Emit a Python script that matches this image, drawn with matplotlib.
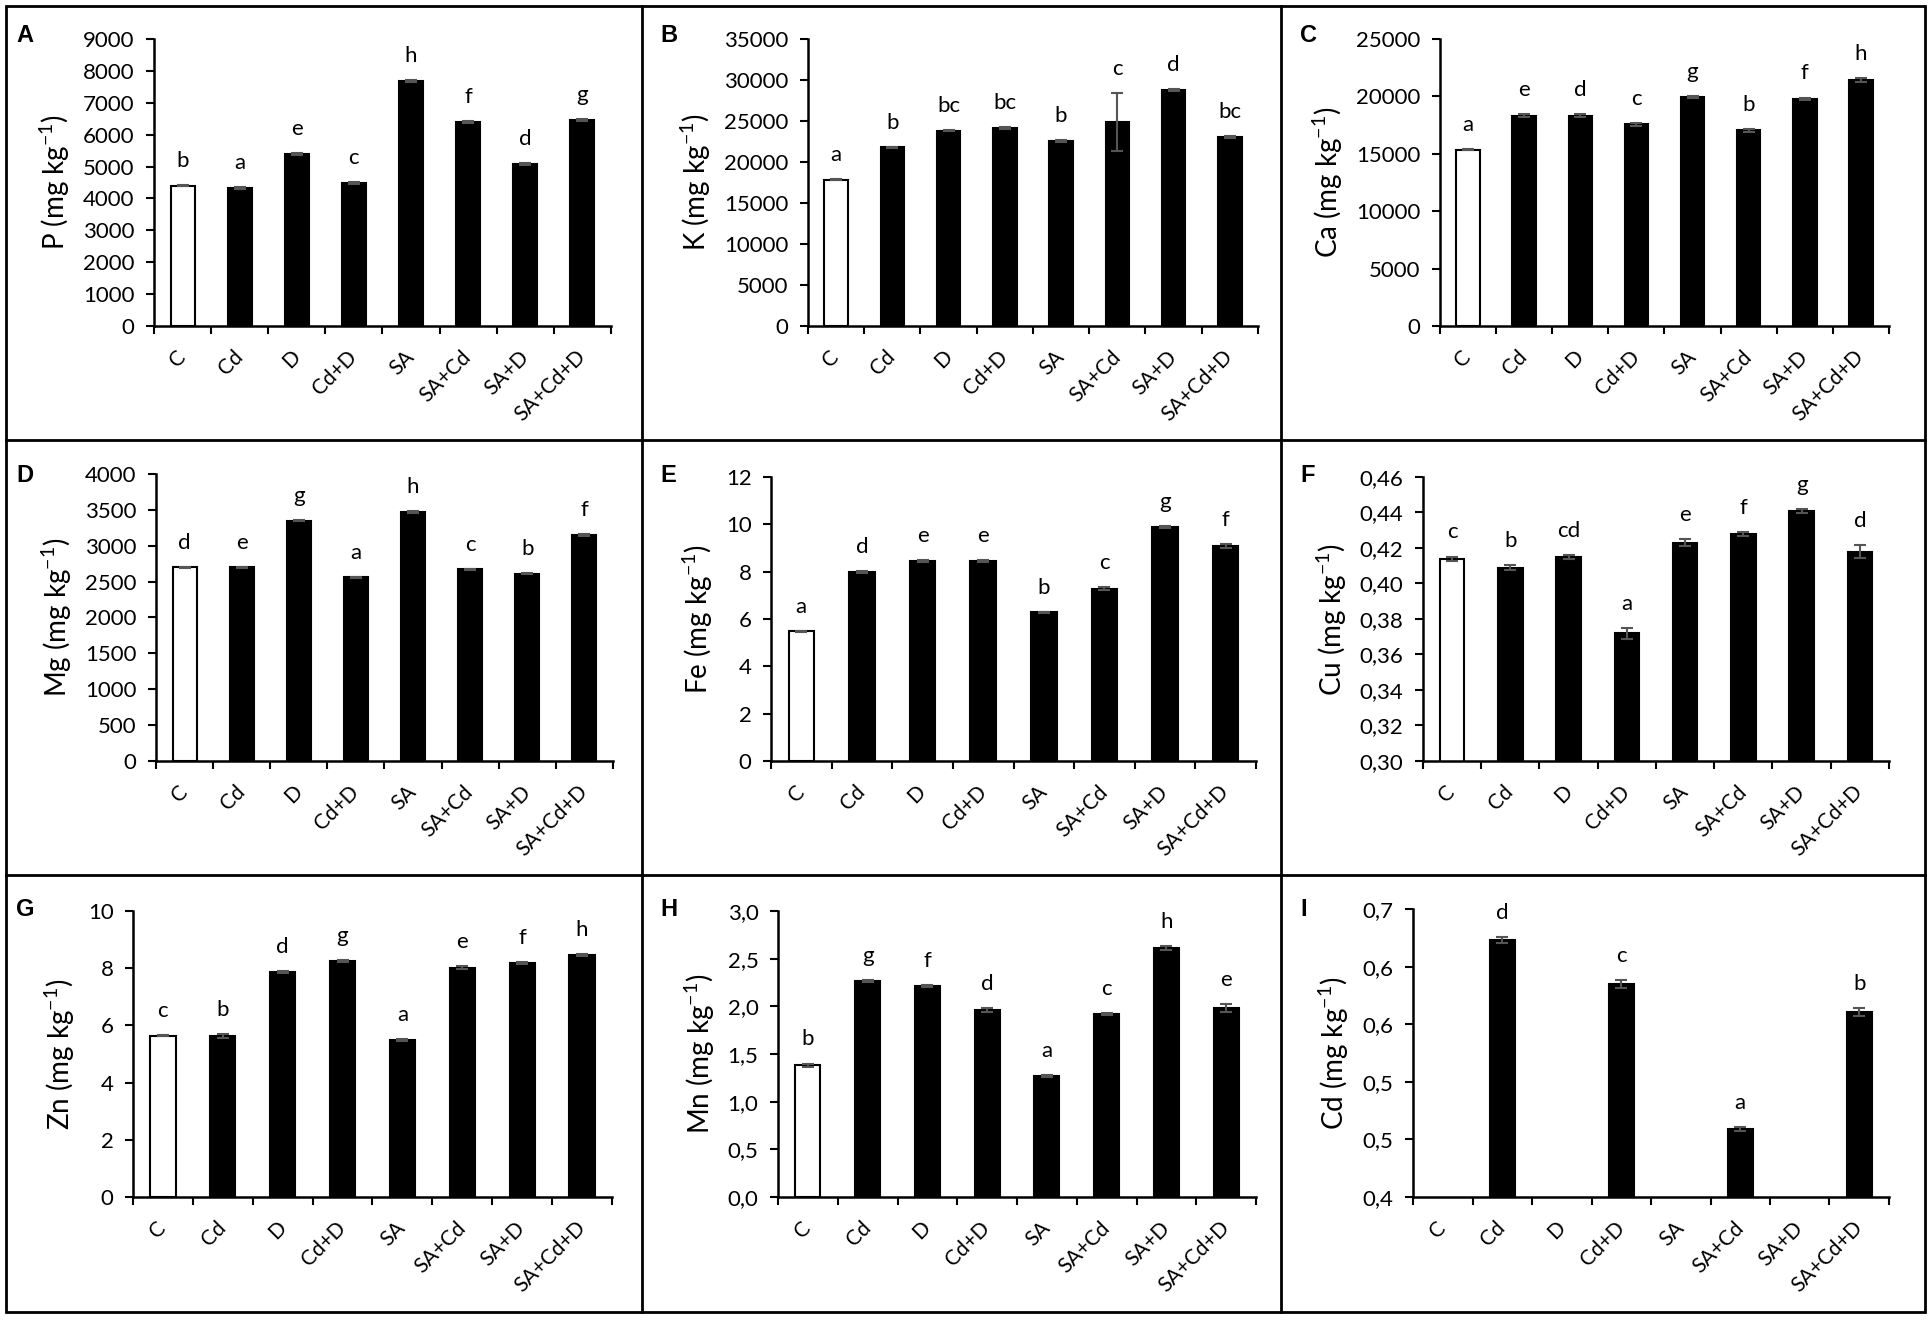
import matplotlib
matplotlib.use('Agg')
import matplotlib.pyplot as plt
from matplotlib.lines import Line2D

plt.rcParams['font.family'] = ['Lato', 'DejaVu Sans']
plt.rcParams['mathtext.fontset'] = 'custom'
plt.rcParams['mathtext.rm'] = 'Lato'
plt.rcParams['mathtext.default'] = 'regular'

# data
categories = ['C', 'Cd', 'D', 'Cd+D', 'SA', 'SA+Cd', 'SA+D', 'SA+Cd+D']

p_vals = [4400, 4330, 5400, 4480, 7670, 6400, 5070, 6470]
p_err = [25, 30, 30, 30, 30, 30, 30, 30]
p_let = ['b', 'a', 'e', 'c', 'h', 'f', 'd', 'g']

k_vals = [17850, 21770, 23840, 24120, 22540, 24860, 28760, 23070]
k_err = [100, 100, 100, 100, 100, 3500, 100, 100]
k_let = ['a', 'b', 'bc', 'bc', 'b', 'c', 'd', 'bc']

ca_vals = [15350, 18310, 18330, 17560, 19970, 17040, 19800, 21450]
ca_err = [60, 120, 120, 120, 100, 100, 100, 180]
ca_let = ['a', 'e', 'd', 'c', 'g', 'b', 'f', 'h']

mg_vals = [2700, 2700, 3350, 2560, 3470, 2670, 2610, 3150]
mg_err = [10, 10, 10, 10, 10, 10, 10, 10]
mg_let = ['d', 'e', 'g', 'a', 'h', 'c', 'b', 'f']

fe_vals = [5.48, 7.99, 8.44, 8.44, 6.28, 7.28, 9.87, 9.07]
fe_err = [0.03, 0.04, 0.04, 0.04, 0.03, 0.07, 0.04, 0.08]
fe_let = ['a', 'd', 'e', 'e', 'b', 'c', 'g', 'f']

cu_vals = [0.414, 0.409, 0.415, 0.372, 0.423, 0.428, 0.441, 0.418]
cu_err = [0.0012, 0.0012, 0.001, 0.003, 0.002, 0.001, 0.0012, 0.0035]
cu_let = ['c', 'b', 'cd', 'a', 'e', 'f', 'g', 'd']

zn_vals = [5.64, 5.63, 7.86, 8.24, 5.50, 8.02, 8.17, 8.46]
zn_err = [0.02, 0.06, 0.04, 0.03, 0.03, 0.04, 0.03, 0.03]
zn_let = ['c', 'b', 'd', 'g', 'a', 'e', 'f', 'h']

mn_vals = [1.38, 2.27, 2.21, 1.96, 1.27, 1.92, 2.61, 1.98]
mn_err = [0.02, 0.01, 0.01, 0.02, 0.01, 0.01, 0.02, 0.04]
mn_let = ['b', 'g', 'f', 'd', 'a', 'c', 'h', 'e']

cd_vals = [0, 0.668, 0, 0.622, 0, 0.471, 0, 0.593]
cd_err = [0, 0.003, 0, 0.004, 0, 0.002, 0, 0.004]
cd_let = ['', 'd', '', 'c', '', 'a', '', 'b']

p_ticks = [0, 1000, 2000, 3000, 4000, 5000, 6000, 7000, 8000, 9000]
k_ticks = [0, 5000, 10000, 15000, 20000, 25000, 30000, 35000]
ca_ticks = [0, 5000, 10000, 15000, 20000, 25000]
mg_ticks = [0, 500, 1000, 1500, 2000, 2500, 3000, 3500, 4000]
fe_ticks = [0, 2, 4, 6, 8, 10, 12]
cu_ticks = [0.30, 0.32, 0.34, 0.36, 0.38, 0.40, 0.42, 0.44, 0.46]
cu_tick_labels = ['0,30', '0,32', '0,34', '0,36', '0,38', '0,40', '0,42', '0,44', '0,46']
zn_ticks = [0, 2, 4, 6, 8, 10]
mn_ticks = [0.0, 0.5, 1.0, 1.5, 2.0, 2.5, 3.0]
mn_tick_labels = ['0,0', '0,5', '1,0', '1,5', '2,0', '2,5', '3,0']
cd_ticks = [0.40, 0.46, 0.52, 0.58, 0.64, 0.70]
cd_tick_labels = ['0,4', '0,5', '0,5', '0,6', '0,6', '0,7']

W, H = 1931, 1321
fig = plt.figure(figsize=(W / 100, H / 100), dpi=100)

# panel: letter, ylabel, values, errors, letters, ticks, tick labels, axes box (px: left, top, right, bottom)
panels = [
    ('A', 'P', p_vals, p_err, p_let, p_ticks, None, (154, 39, 611, 326)),
    ('B', 'K', k_vals, k_err, k_let, k_ticks, None, (808, 39, 1258, 326)),
    ('C', 'Ca', ca_vals, ca_err, ca_let, ca_ticks, None, (1440, 39, 1889, 326)),
    ('D', 'Mg', mg_vals, mg_err, mg_let, mg_ticks, None, (156, 474, 613, 761)),
    ('E', 'Fe', fe_vals, fe_err, fe_let, fe_ticks, None, (771, 477, 1256, 761)),
    ('F', 'Cu', cu_vals, cu_err, cu_let, cu_ticks, cu_tick_labels, (1423, 477, 1889, 761)),
    ('G', 'Zn', zn_vals, zn_err, zn_let, zn_ticks, None, (133, 911, 612, 1197)),
    ('H', 'Mn', mn_vals, mn_err, mn_let, mn_ticks, mn_tick_labels, (778, 911, 1256, 1197)),
    ('I', 'Cd', cd_vals, cd_err, cd_let, cd_ticks, cd_tick_labels, (1413, 909, 1889, 1197)),
]

x = list(range(len(categories)))
colors = ['white'] + ['black'] * 7

for i, (tag, elem, vals, errs, lets, ticks, tlabels, box) in enumerate(panels):
    l, t, r, b = box
    ax = fig.add_axes([l / W, 1 - b / H, (r - l) / W, (b - t) / H])
    ax.bar(x, vals, width=0.42, color=colors, edgecolor='black', linewidth=1.5, zorder=2)
    ax.errorbar(x, vals, yerr=errs, fmt='none', ecolor='#555555', elinewidth=1.5,
                capsize=4, capthick=1.5, zorder=3)
    for xi, v, e, s in zip(x, vals, errs, lets):
        if s:
            ax.annotate(s, (xi, v + e), xytext=(0, 13), textcoords='offset points',
                        ha='center', va='baseline', fontsize=16)
    ax.set_xlim(-0.5, 7.5)
    ax.set_ylim(ticks[0], ticks[-1])
    ax.set_yticks(ticks)
    if tlabels:
        ax.set_yticklabels(tlabels)
    ax.set_xticks([k - 0.5 for k in range(9)])
    ax.set_xticklabels([])
    ax.set_xticks(x, minor=True)
    ax.set_xticklabels(categories, minor=True, rotation=45, ha='right', va='center',
                       rotation_mode='anchor', fontsize=15)
    ax.tick_params(axis='x', which='minor', length=0, pad=20)
    ax.tick_params(axis='x', which='major', direction='out', length=6, width=1.5)
    ax.tick_params(axis='y', direction='out', length=6, width=1.5, labelsize=16, pad=8)
    for side in ['top', 'right']:
        ax.spines[side].set_visible(False)
    for side in ['left', 'bottom']:
        ax.spines[side].set_linewidth(1.8)
    ax.set_ylabel(elem + ' (mg kg$^{-1}$)', fontsize=20, labelpad=8)

    col, row = i % 3, i // 3
    px = [16, 660, 1300][col]
    py = [24, 464, 898][row]
    fig.text(px / W, 1 - py / H, tag, fontsize=17, fontweight='bold',
             family='Liberation Sans', ha='left', va='top')

# panel frames
lw = 2
fig.add_artist(plt.Rectangle((6 / W, 1 - 1312 / H), (1925 - 6) / W, (1312 - 6) / H,
                             fill=False, edgecolor='black', linewidth=lw,
                             transform=fig.transFigure))
for xv in [642, 1281]:
    fig.add_artist(Line2D([xv / W, xv / W], [1 - 1312 / H, 1 - 6 / H], color='black',
                          linewidth=lw, transform=fig.transFigure))
for yv in [440, 875]:
    fig.add_artist(Line2D([6 / W, 1925 / W], [1 - yv / H, 1 - yv / H], color='black',
                          linewidth=lw, transform=fig.transFigure))

fig.savefig('out.png', dpi=100)
